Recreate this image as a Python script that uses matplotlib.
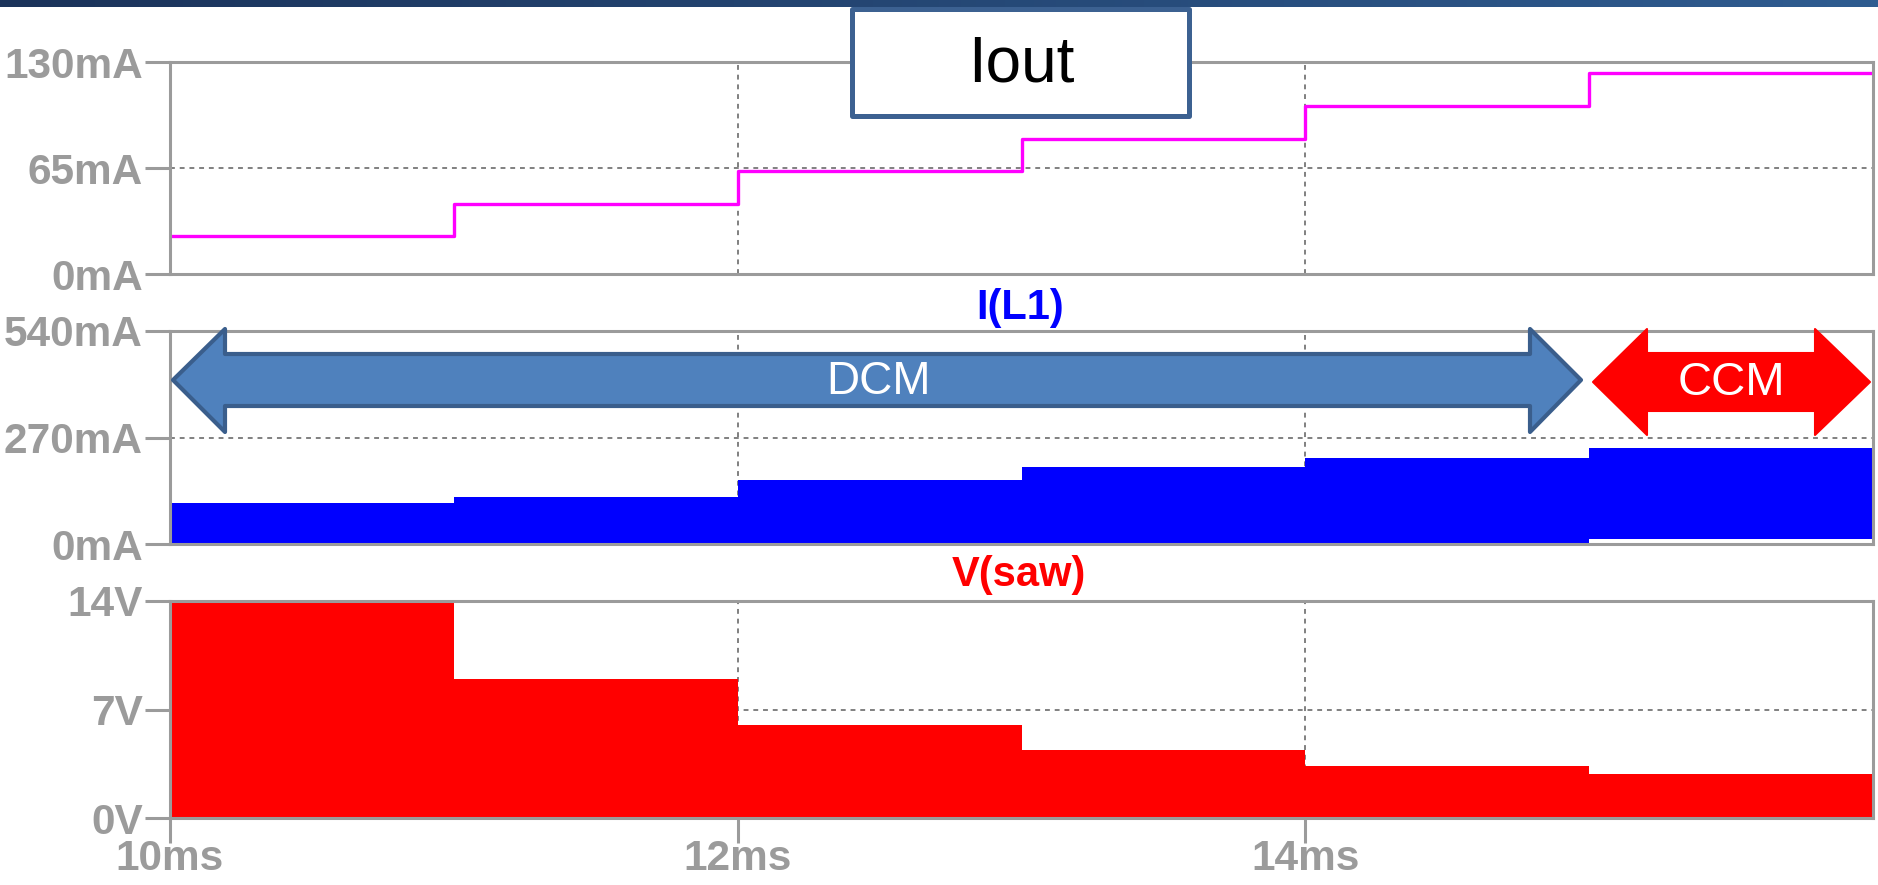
import numpy as np
import matplotlib
matplotlib.use("Agg")
import matplotlib.pyplot as plt
from matplotlib.patches import Polygon, Rectangle

plt.rcParams['font.family'] = ['Liberation Sans', 'DejaVu Sans']

# step edges in ms and the level held in each 1 ms segment
t_edges = [10, 11, 12, 13, 14, 15, 16]
iout_ma = [23, 43, 63, 83, 103, 123]
il1_peak_ma = [104, 120, 162, 196, 218, 243]
il1_low_ma = [0, 0, 0, 0, 0, 12]
vsaw_v = [14, 9.0, 6.0, 4.4, 3.35, 2.85]

x_ticks = [10, 12, 14]
x_ticklabels = ['10ms', '12ms', '14ms']
iout_ticks = [0, 65, 130]
iout_ticklabels = ['0mA', '65mA', '130mA']
il1_ticks = [0, 270, 540]
il1_ticklabels = ['0mA', '270mA', '540mA']
vsaw_ticks = [0, 7, 14]
vsaw_ticklabels = ['0V', '7V', '14V']

W, H = 1878, 885
GRAY = '#9b9b9b'
GRID = '#808080'

fig = plt.figure(figsize=(W / 100, H / 100), dpi=100)


def px_axes(left, top, right, bottom):
    return fig.add_axes([left / W, 1 - bottom / H, (right - left) / W, (bottom - top) / H])


def step(vals):
    return list(vals) + [vals[-1]]


def style(ax, ticks, labels, top):
    ax.set_xlim(10, 16)
    ax.set_ylim(0, top)
    for s in ax.spines.values():
        s.set_color(GRAY)
        s.set_linewidth(2.2)
    ax.set_yticks(ticks)
    ax.set_yticklabels(labels, fontweight='bold')
    ax.set_xticks(x_ticks)
    ax.tick_params(axis='y', length=18, width=2.2, color=GRAY, labelcolor=GRAY,
                   labelsize=30.5, pad=1.5)
    ax.tick_params(axis='x', length=0, labelbottom=False)
    ax.grid(True, color=GRID, ls=(0, (2.5, 2.5)), lw=1.4)
    ax.set_axisbelow(True)


# Iout
ax1 = px_axes(170, 62, 1873, 274)
style(ax1, iout_ticks, iout_ticklabels, 130)
ax1.step(t_edges, step(iout_ma), where='post', color='#ff00ff', lw=2.4)

# I(L1)
ax2 = px_axes(170, 331, 1873, 544)
style(ax2, il1_ticks, il1_ticklabels, 540)
ax2.fill_between(t_edges, step(il1_low_ma), step(il1_peak_ma), step='post',
                 color='#0000ff', lw=0)

# V(saw)
ax3 = px_axes(170, 601, 1873, 818)
style(ax3, vsaw_ticks, vsaw_ticklabels, 14)
ax3.fill_between(t_edges, 0, step(vsaw_v), step='post', color='#ff0000', lw=0)
ax3.set_xticklabels(x_ticklabels, fontweight='bold')
ax3.tick_params(axis='x', length=18, width=2.2, color=GRAY, labelcolor=GRAY,
                labelsize=30.5, pad=-3, labelbottom=True)

# overlay in pixel coordinates for the annotations
ov = fig.add_axes([0, 0, 1, 1], zorder=10)
ov.axis('off')

grad = np.linspace(0, 1, 256).reshape(1, -1)
cmap = matplotlib.colors.LinearSegmentedColormap.from_list('bar', ['#1b335a', '#2f5c90'])
ov.imshow(grad, cmap=cmap, extent=[0, W, 7, 0], aspect='auto')
ov.set_xlim(0, W)
ov.set_ylim(H, 0)

ov.add_patch(Rectangle((852, 9), 337, 107, facecolor='white', edgecolor='#3c6191',
                       lw=3.6, joinstyle='round'))
ov.text(1021, 64, 'Iout', fontsize=46, ha='center', va='center', color='black')

dcm = [(173, 380), (225, 329), (225, 354), (1530, 354), (1530, 329), (1581, 380),
       (1530, 432), (1530, 406), (225, 406), (225, 432)]
ov.add_patch(Polygon(dcm, closed=True, facecolor='#4f81bd', edgecolor='#3a5e8c',
                     lw=3, joinstyle='round'))
ov.text(878, 382, 'DCM', fontsize=33, color='white', ha='center', va='center')

ccm = [(1593, 382), (1647, 329), (1647, 353), (1815, 353), (1815, 329), (1870, 382),
       (1815, 435), (1815, 411), (1647, 411), (1647, 435)]
ov.add_patch(Polygon(ccm, closed=True, facecolor='#ff0000', edgecolor='#ff0000',
                     lw=1.5, joinstyle='round'))
ov.text(1731, 383, 'CCM', fontsize=34, color='white', ha='center', va='center')

ov.text(1020, 308, 'I(L1)', fontsize=30, fontweight='bold', color='#0000ff',
        ha='center', va='center')
ov.text(1019, 575, 'V(saw)', fontsize=30, fontweight='bold', color='#ff0000',
        ha='center', va='center')

fig.savefig('out.png', dpi=100)
